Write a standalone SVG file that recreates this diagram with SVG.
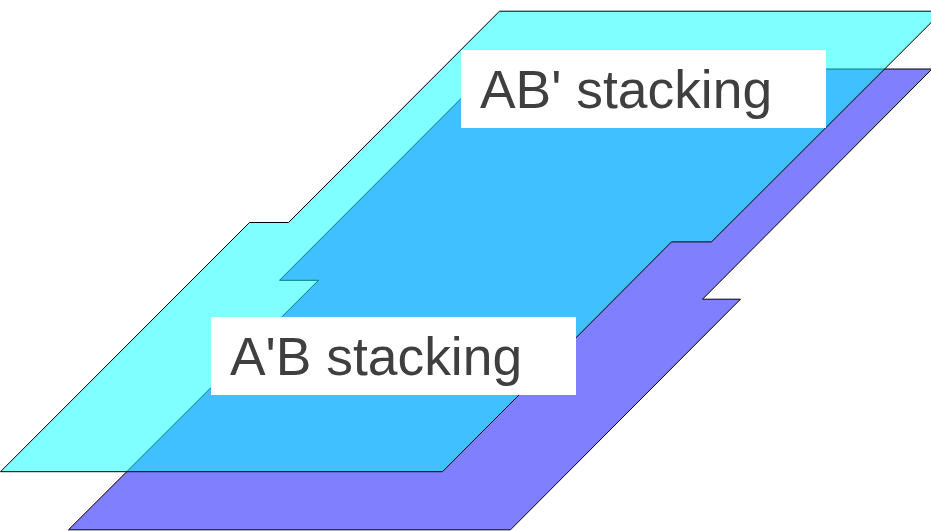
<svg xmlns="http://www.w3.org/2000/svg" width="931" height="531" viewBox="0 0 931 531">
<style>.s{stroke:#000;stroke-width:1;stroke-linejoin:miter}.l{fill:#fff}.t{font-family:"Liberation Sans",Arial,sans-serif;font-size:53.4px;fill:#3f3f3f}</style>
<rect width="931" height="531" fill="#fff"/>
<path id="lower" class="s" fill="#8080ff" d="M68.500 529.800L510.500 529.800L740.500 299.200L702.500 299.200L932 69L490.500 69L279.500 280.300L318.500 280.300Z"/>
<path id="upper" class="s" fill="#00ffff" fill-opacity="0.5" d="M0.500 471.700L442.500 471.700L671.500 241.900L711.500 241.900L942.500 11.200L499.500 11.200L288.500 222.500L249.500 222.500Z"/>
<g id="ab"><rect class="l" x="461" y="50" width="365" height="78"/><text class="t" x="480" y="108">AB' stacking</text></g>
<g id="ba"><rect class="l" x="211" y="317" width="365" height="78"/><text class="t" x="230" y="375">A'B stacking</text></g>
</svg>
